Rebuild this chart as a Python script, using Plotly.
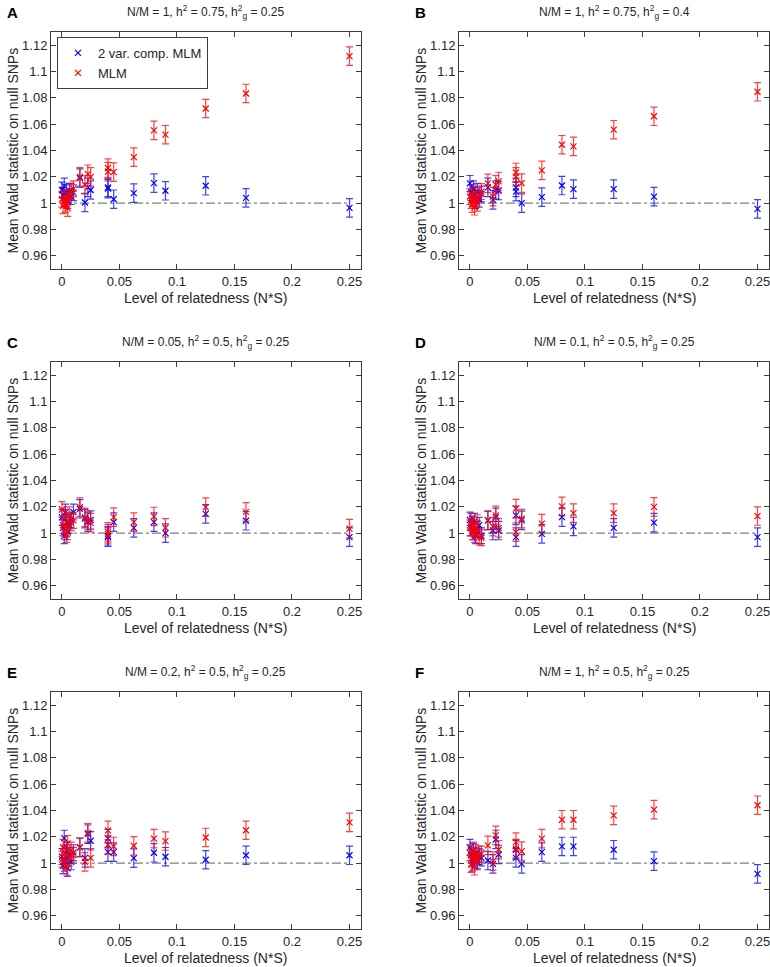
import plotly.graph_objects as go

# Relatedness levels (N*S)
relatedness = [0, 0.001, 0.002, 0.003, 0.004, 0.005, 0.0064, 0.008, 0.01, 0.0156, 0.02,
               0.0225, 0.025, 0.04, 0.04, 0.045, 0.0625, 0.08, 0.09, 0.125, 0.16, 0.25]

# Panel A
a_vc = [1.010, 1.006, 1.013, 1.004, 1.008, 1.002, 1.009, 1.005, 1.008, 1.019, 1.0005,
        1.012, 1.010, 1.011, 1.012, 1.003, 1.0076, 1.0152, 1.0094, 1.0132, 1.004, 0.9964]
a_mlm = [1.003, 0.998, 1.004, 0.999, 1.002, 0.996, 1.005, 1.009, 1.011, 1.020, 1.014,
         1.022, 1.020, 1.0267, 1.024, 1.0236, 1.035, 1.0553, 1.052, 1.0719, 1.0833, 1.1117]
# Panel B
b_vc = [1.015, 1.008, 1.004, 1.011, 1.006, 1.002, 1.009, 1.003, 1.007, 1.012, 1.0025,
        1.010, 1.0096, 1.0088, 1.012, 1.000, 1.0046, 1.0134, 1.0107, 1.0107, 1.005, 0.9957]
b_mlm = [1.005, 1.002, 0.999, 1.008, 0.997, 1.003, 1.000, 1.006, 1.0088, 1.015, 1.005,
         1.014, 1.0165, 1.0233, 1.020, 1.0152, 1.0249, 1.0444, 1.0431, 1.0558, 1.066, 1.0846]
# Panel C
c_vc = [1.012, 1.004, 0.998, 1.016, 1.008, 1.001, 1.006, 1.010, 1.016, 1.0185, 1.011,
        1.0084, 1.010, 0.997, 0.998, 1.0084, 1.004, 1.0084, 1.000, 1.0147, 1.0094, 0.997]
c_mlm = [1.018, 1.006, 1.001, 1.012, 0.999, 1.004, 1.014, 1.008, 1.0097, 1.0198, 1.012,
         1.0097, 1.008, 0.9995, 1.001, 1.0122, 1.0084, 1.0127, 1.0041, 1.0198, 1.0162, 1.0034]
# Panel D
d_vc = [1.010, 1.004, 1.007, 1.001, 1.009, 0.998, 1.003, 1.006, 0.998, 1.0097, 1.002,
        1.012, 1.002, 1.0135, 0.997, 1.0097, 0.9995, 1.0122, 1.0051, 1.004, 1.008, 0.997]
d_mlm = [1.004, 1.009, 1.001, 1.006, 0.999, 1.003, 1.008, 0.997, 0.9965, 1.0097, 1.005,
         1.0135, 1.004, 1.0186, 1.0008, 1.011, 1.0072, 1.0203, 1.0152, 1.0152, 1.020, 1.013]
# Panel E
e_vc = [1.005, 0.998, 1.019, 1.002, 1.010, 0.996, 1.006, 1.001, 1.008, 1.012, 1.004,
        1.022, 1.017, 1.0186, 1.0084, 1.0084, 1.0038, 1.0079, 1.0049, 1.0026, 1.006, 1.006]
e_mlm = [1.003, 1.012, 1.000, 1.008, 0.997, 1.015, 1.004, 1.010, 1.006, 1.012, 1.001,
         1.023, 1.004, 1.0249, 1.014, 1.0127, 1.0132, 1.0186, 1.0168, 1.0195, 1.025, 1.031]
# Panel F
f_vc = [1.012, 1.006, 1.000, 1.009, 1.003, 1.008, 1.001, 1.005, 1.004, 1.002, 0.9995,
        1.018, 1.0066, 1.0102, 1.004, 0.9995, 1.0084, 1.0127, 1.0127, 1.0102, 1.0015, 0.9919]
f_mlm = [1.008, 0.999, 1.004, 1.010, 0.997, 1.006, 1.002, 1.007, 1.007, 1.0135, 1.0015,
         1.0211, 1.0102, 1.016, 1.011, 1.0092, 1.0186, 1.033, 1.033, 1.0363, 1.0407, 1.044]

# Standard errors (approximately equal for all points)
se_vc = [0.006, 0.006, 0.006, 0.006, 0.006, 0.006, 0.006, 0.006, 0.006, 0.007, 0.007,
         0.007, 0.007, 0.007, 0.007, 0.007, 0.007, 0.007, 0.007, 0.007, 0.007, 0.007]
se_mlm = [0.006, 0.006, 0.006, 0.006, 0.006, 0.006, 0.006, 0.006, 0.006, 0.007, 0.007,
          0.007, 0.007, 0.007, 0.007, 0.007, 0.007, 0.007, 0.007, 0.007, 0.007, 0.007]

panel_letters = ["A", "B", "C", "D", "E", "F"]
panel_titles = [
    "N/M = 1, h<sup>2</sup> = 0.75, h<sup>2</sup><sub>g</sub> = 0.25",
    "N/M = 1, h<sup>2</sup> = 0.75, h<sup>2</sup><sub>g</sub> = 0.4",
    "N/M = 0.05, h<sup>2</sup> = 0.5, h<sup>2</sup><sub>g</sub> = 0.25",
    "N/M = 0.1, h<sup>2</sup> = 0.5, h<sup>2</sup><sub>g</sub> = 0.25",
    "N/M = 0.2, h<sup>2</sup> = 0.5, h<sup>2</sup><sub>g</sub> = 0.25",
    "N/M = 1, h<sup>2</sup> = 0.5, h<sup>2</sup><sub>g</sub> = 0.25",
]
vc_series = [a_vc, b_vc, c_vc, d_vc, e_vc, f_vc]
mlm_series = [a_mlm, b_mlm, c_mlm, d_mlm, e_mlm, f_mlm]
ref_x = [0, 0.25]
ref_y = [1, 1]
x_ticks = [0, 0.05, 0.1, 0.15, 0.2, 0.25]
x_ticktext = ["0", "0.05", "0.1", "0.15", "0.2", "0.25"]
y_ticks = [0.96, 0.98, 1.0, 1.02, 1.04, 1.06, 1.08, 1.1, 1.12]
y_ticktext = ["0.96", "0.98", "1", "1.02", "1.04", "1.06", "1.08", "1.1", "1.12"]

W, H = 770, 967
col_px = [(51, 361), (459, 769)]
row_px = [(32, 269), (362, 599), (692, 929)]
FONT = "Arial, Liberation Sans, sans-serif"

fig = go.Figure()
annotations = []

for i in range(6):
    r, c = divmod(i, 2)
    x0, x1 = col_px[c]
    y0, y1 = row_px[r]
    ax = "" if i == 0 else str(i + 1)
    xref, yref = "x" + ax, "y" + ax
    showleg = (i == 0)
    # reference line
    fig.add_trace(go.Scatter(x=ref_x, y=ref_y, mode="lines", xaxis=xref, yaxis=yref,
                             line=dict(color="#7f7f7f", width=1.2, dash="dashdot"),
                             showlegend=False, hoverinfo="skip"))
    fig.add_trace(go.Scatter(
        x=relatedness, y=vc_series[i], mode="markers", xaxis=xref, yaxis=yref,
        name="2 var. comp. MLM", showlegend=showleg,
        marker=dict(symbol="x-thin", size=6, color="#0000ff",
                    line=dict(color="#0000ff", width=1.2)),
        error_y=dict(type="data", array=se_vc, visible=True, color="rgba(0,0,255,0.75)",
                     thickness=1.2, width=3.5)))
    fig.add_trace(go.Scatter(
        x=relatedness, y=mlm_series[i], mode="markers", xaxis=xref, yaxis=yref,
        name="MLM", showlegend=showleg,
        marker=dict(symbol="x-thin", size=6, color="#ff0000",
                    line=dict(color="#ff0000", width=1.2)),
        error_y=dict(type="data", array=se_mlm, visible=True, color="rgba(255,0,0,0.75)",
                     thickness=1.2, width=3.5)))

    axis_common = dict(showline=True, linecolor="#3c3c3c", linewidth=1, mirror="ticks",
                       ticks="inside", ticklen=5, tickcolor="#3c3c3c", showgrid=False,
                       zeroline=False, ticklabeloverflow="allow",
                       tickfont=dict(family=FONT, size=13, color="#262626"))
    fig.layout["xaxis" + ax] = dict(
        domain=[x0 / W, x1 / W], range=[-0.0095, 0.26], anchor=yref,
        tickvals=x_ticks, ticktext=x_ticktext, **axis_common)
    fig.layout["yaxis" + ax] = dict(
        domain=[1 - y1 / H, 1 - y0 / H], range=[0.95, 1.13], anchor=xref,
        tickvals=y_ticks, ticktext=y_ticktext, **axis_common)

    cx = (x0 + x1) / 2
    # panel title
    annotations.append(dict(text=panel_titles[i], x=cx / W, y=1 - (y0 - 20) / H,
                            xref="paper", yref="paper", showarrow=False,
                            xanchor="center", yanchor="middle",
                            font=dict(family=FONT, size=12, color="#262626")))
    # panel letter
    annotations.append(dict(text="<b>" + panel_letters[i] + "</b>",
                            x=(x0 - 46) / W, y=1 - (y0 - 20) / H,
                            xref="paper", yref="paper", showarrow=False,
                            xanchor="left", yanchor="middle",
                            font=dict(family=FONT, size=15, color="#000000")))
    # x title
    annotations.append(dict(text="Level of relatedness (N*S)", x=cx / W,
                            y=1 - (y1 + 29) / H, xref="paper", yref="paper",
                            showarrow=False, xanchor="center", yanchor="middle",
                            font=dict(family=FONT, size=14, color="#262626")))
    # y title
    annotations.append(dict(text="Mean Wald statistic on null SNPs",
                            x=(x0 - 39) / W, y=1 - ((y0 + y1) / 2) / H,
                            xref="paper", yref="paper", showarrow=False, textangle=-90,
                            xanchor="center", yanchor="middle",
                            font=dict(family=FONT, size=14, color="#262626")))

fig.update_layout(
    width=W, height=H, margin=dict(l=0, r=0, t=0, b=0),
    paper_bgcolor="white", plot_bgcolor="white",
    annotations=annotations,
    legend=dict(x=57 / W, y=1 - 37 / H, xanchor="left", yanchor="top",
                bordercolor="#3c3c3c", borderwidth=1, bgcolor="white",
                font=dict(family=FONT, size=13, color="#262626"),
                tracegroupgap=0, itemwidth=30),
    font=dict(family=FONT),
)

fig.write_html(
    "out.html",
    config={"displayModeBar": False},
    post_script="document.body.style.margin='0';document.body.style.padding='0';"
                "document.body.style.overflow='hidden';"
                "document.documentElement.style.overflow='hidden';",
)
